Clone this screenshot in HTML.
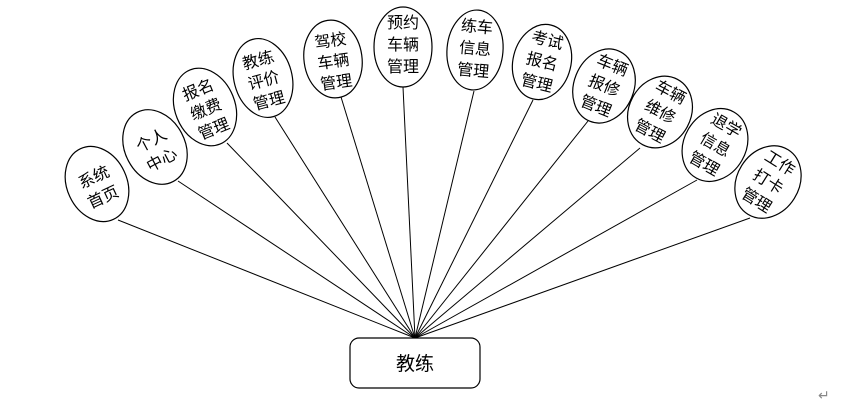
<!DOCTYPE html>
<html><head><meta charset="utf-8"><style>
body{margin:0;background:#fff;}
svg text{font-family:"Liberation Sans","Noto Sans CJK SC",sans-serif;font-size:16px;fill:#000;}
</style></head><body>
<svg width="858" height="408" viewBox="0 0 858 408" xmlns="http://www.w3.org/2000/svg">
<g stroke="#000" stroke-width="1">
<line x1="118" y1="220" x2="415" y2="338"/>
<line x1="178" y1="181" x2="415" y2="338"/>
<line x1="227" y1="143" x2="415" y2="338"/>
<line x1="275" y1="117" x2="415" y2="338"/>
<line x1="341" y1="97" x2="415" y2="338"/>
<line x1="403" y1="87" x2="415" y2="338"/>
<line x1="474" y1="91" x2="415" y2="338"/>
<line x1="533" y1="100" x2="415" y2="338"/>
<line x1="588" y1="121" x2="415" y2="338"/>
<line x1="640" y1="148" x2="415" y2="338"/>
<line x1="697" y1="180" x2="415" y2="338"/>
<line x1="750" y1="218" x2="415" y2="338"/>
</g>
<g fill="#fff" stroke="#000" stroke-width="1.2">
<ellipse cx="97" cy="184" rx="30" ry="39" transform="rotate(-25 97 184)"/>
<ellipse cx="155" cy="147" rx="30" ry="39" transform="rotate(-28 155 147)"/>
<ellipse cx="205" cy="107" rx="30" ry="40" transform="rotate(-22 205 107)"/>
<ellipse cx="263" cy="78" rx="29" ry="40" transform="rotate(-15 263 78)"/>
<ellipse cx="333" cy="59" rx="29" ry="39" transform="rotate(-8 333 59)"/>
<ellipse cx="403" cy="47" rx="29" ry="40"/>
<ellipse cx="475" cy="50" rx="28" ry="40" transform="rotate(5 475 50)"/>
<ellipse cx="542" cy="62" rx="29" ry="38" transform="rotate(14 542 62)"/>
<ellipse cx="604" cy="86" rx="30" ry="38" transform="rotate(22 604 86)"/>
<ellipse cx="660" cy="112" rx="31" ry="37" transform="rotate(28 660 112)"/>
<ellipse cx="715" cy="145" rx="31" ry="38" transform="rotate(30 715 145)"/>
<ellipse cx="768" cy="182" rx="31" ry="38" transform="rotate(32 768 182)"/>
<rect x="350" y="338" width="130" height="50" rx="9" ry="9"/>
</g>
<g text-anchor="middle">
<g transform="rotate(-25 97 184)"><text x="97" y="182">系统</text><text x="97" y="204">首页</text></g>
<g transform="rotate(-28 155 147)"><text x="155" y="145">个人</text><text x="155" y="167">中心</text></g>
<g transform="rotate(-22 205 107)"><text x="205" y="94">报名</text><text x="205" y="115">缴费</text><text x="205" y="136">管理</text></g>
<g transform="rotate(-15 263 78)"><text x="263" y="65">教练</text><text x="263" y="86">评价</text><text x="263" y="107">管理</text></g>
<g transform="rotate(-8 333 59)"><text x="333" y="46">驾校</text><text x="333" y="67">车辆</text><text x="333" y="88">管理</text></g>
<text x="403" y="28">预约</text><text x="403" y="50">车辆</text><text x="403" y="72">管理</text>
<g transform="rotate(5 475 50)"><text x="475" y="32">练车</text><text x="475" y="54">信息</text><text x="475" y="76">管理</text></g>
<g transform="rotate(14 542 62)"><text x="542" y="45">考试</text><text x="542" y="67">报名</text><text x="542" y="89">管理</text></g>
<g transform="rotate(22 604 86)"><text x="604" y="69">车辆</text><text x="604" y="91">报修</text><text x="604" y="113">管理</text></g>
<g transform="rotate(28 660 112)"><text x="660" y="95">车辆</text><text x="660" y="117">维修</text><text x="660" y="139">管理</text></g>
<g transform="rotate(30 715 145)"><text x="715" y="128">退学</text><text x="715" y="150">信息</text><text x="715" y="172">管理</text></g>
<g transform="rotate(32 768 182)"><text x="768" y="165">工作</text><text x="768" y="187">打卡</text><text x="768" y="209">管理</text></g>
<text x="415" y="370" style="font-size:19px">教练</text>
</g>
<text x="818" y="400" style="font-size:14px;fill:#888">↵</text>
</svg>
</body></html>
